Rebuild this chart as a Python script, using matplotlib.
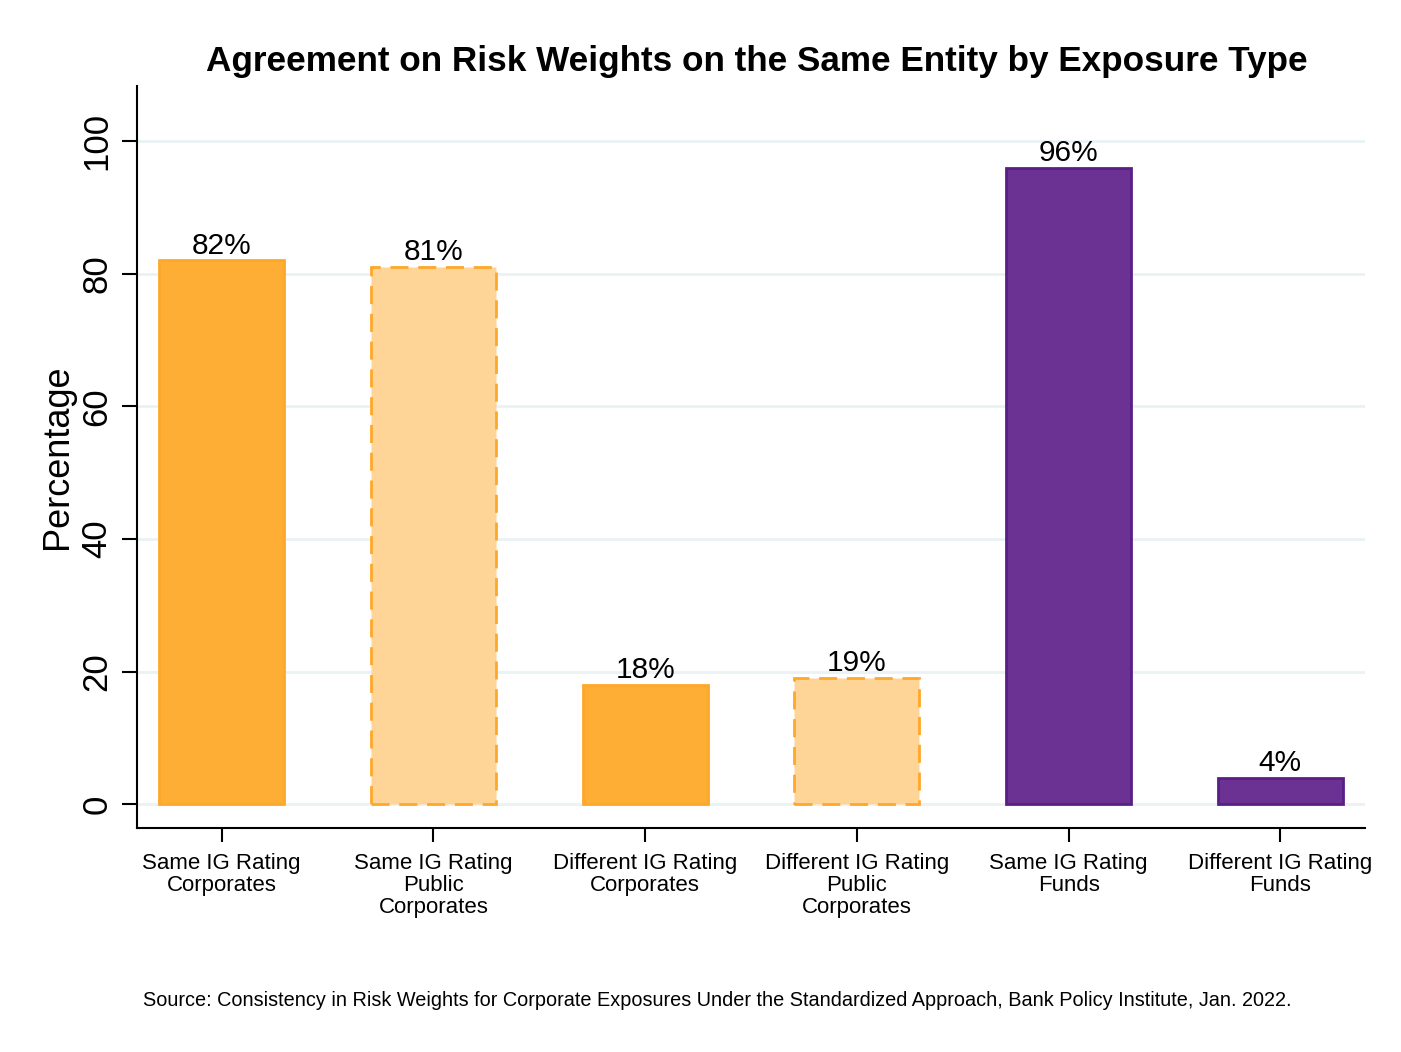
import numpy as np
import matplotlib
matplotlib.use("Agg")
import matplotlib.pyplot as plt

plt.rcParams["font.family"] = ["Liberation Sans", "DejaVu Sans"]

# ---- data ----
CATS = ["Same IG Rating\nCorporates", "Same IG Rating\nPublic\nCorporates",
        "Different IG Rating\nCorporates", "Different IG Rating\nPublic\nCorporates",
        "Same IG Rating\nFunds", "Different IG Rating\nFunds"]
VALS = [82, 81, 18, 19, 96, 4]
FACE = ["#FEAE34", "#FED596", "#FEAE34", "#FED596", "#6B3193", "#6B3193"]
EDGE = ["#FEA82A", "#FEA82A", "#FEA82A", "#FEA82A", "#5A1F87", "#5A1F87"]
DASHED = [False, True, False, True, False, False]
YTICKS = [0, 20, 40, 60, 80, 100]

W, H = 1401, 1052
fig = plt.figure(figsize=(W / 100, H / 100), dpi=100)
ax = fig.add_axes([137 / W, 1 - 828 / H, (1365 - 137) / W, (828 - 86) / H])

x = np.arange(len(VALS))
for xi, v, fc, ec, d in zip(x, VALS, FACE, EDGE, DASHED):
    ax.bar(xi, v, 0.59, color=fc, edgecolor=ec, linewidth=2,
           linestyle=(0, (6.5, 3.5)) if d else "-", zorder=3)
    ax.text(xi, v + 0.1, f"{v}%", ha="center", va="bottom", fontsize=21.5, zorder=4)

ax.set_xlim(-0.4, 5.4)
ax.set_ylim(-3.6, 108.3)
ax.set_yticks(YTICKS)
ax.set_yticklabels([str(t) for t in YTICKS], rotation=90, va="center", fontsize=25)
ax.set_xticks(x)
ax.set_xticklabels(CATS, fontsize=16, linespacing=1.07)
ax.tick_params(axis="x", length=10, width=1.5, pad=8)
ax.tick_params(axis="y", length=11, width=1.5, pad=6)
ax.grid(axis="y", color="#EAF2F3", linewidth=2, zorder=0)
ax.set_axisbelow(True)
for s in ["top", "right"]:
    ax.spines[s].set_visible(False)
for s in ["left", "bottom"]:
    ax.spines[s].set_linewidth(1.5)
ax.set_ylabel("Percentage", fontsize=26, labelpad=4)

fig.text(757 / W, 1 - 62 / H, "Agreement on Risk Weights on the Same Entity by Exposure Type",
         ha="center", va="center", fontsize=25.3, fontweight="bold")
fig.text(143 / W, 1 - 1001 / H,
         "Source: Consistency in Risk Weights for Corporate Exposures Under the Standardized Approach, Bank Policy Institute, Jan. 2022.",
         ha="left", va="center", fontsize=14.3)

fig.savefig("out.png", dpi=100, facecolor="white")
